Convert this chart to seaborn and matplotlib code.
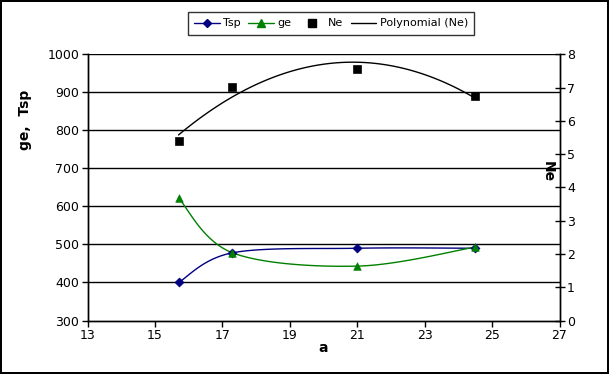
import numpy as np
import pandas as pd
import matplotlib
matplotlib.use("Agg")
import matplotlib.pyplot as plt
from matplotlib.lines import Line2D
import seaborn as sns

# ---- data ----
a_vals = [15.7, 17.3, 21.0, 24.5]
tsp_vals = [400, 478, 490, 490]
ge_vals = [622, 478, 443, 493]
ne_vals = [5.4, 7.03, 7.57, 6.74]
x_ticks = [13, 15, 17, 19, 21, 23, 25, 27]
left_ticks = [300, 400, 500, 600, 700, 800, 900, 1000]
right_ticks = [0, 1, 2, 3, 4, 5, 6, 7, 8]

sns.set_style("white")
plt.rcParams['font.family'] = ['DejaVu Sans']
plt.rcParams['text.color'] = 'black'

W, H = 609, 374
fig = plt.figure(figsize=(W / 100, H / 100), dpi=100)
fig.patch.set_edgecolor("black")
fig.patch.set_linewidth(1.5)
ax = fig.add_axes([87.5 / W, 1 - 320.5 / H, (559.5 - 87.5) / W, (320.5 - 54.3) / H])
ax2 = ax.twinx()

XLIM = (13, 27)
YLIM = (300, 1000)


def smooth(xs, ys, xr, yr, n=40):
    """Excel-style smoothed line (cubic Bezier, Catmull-Rom control points)."""
    px = (np.asarray(xs, float) - xr[0]) / (xr[1] - xr[0])
    py = (np.asarray(ys, float) - yr[0]) / (yr[1] - yr[0]) * (H / W)
    P = np.column_stack([px, py])
    m = len(P)
    out = []
    for i in range(m - 1):
        p0 = P[max(i - 1, 0)]
        p1 = P[i]
        p2 = P[i + 1]
        p3 = P[min(i + 2, m - 1)]
        c1 = p1 + (p2 - p0) / 6
        c2 = p2 - (p3 - p1) / 6
        t = np.linspace(0, 1, n)[:, None]
        seg = ((1 - t) ** 3) * p1 + 3 * ((1 - t) ** 2) * t * c1 + 3 * (1 - t) * t ** 2 * c2 + t ** 3 * p2
        out.append(seg if i == 0 else seg[1:])
    S = np.vstack(out)
    sx = S[:, 0] * (xr[1] - xr[0]) + xr[0]
    sy = S[:, 1] / (H / W) * (yr[1] - yr[0]) + yr[0]
    return sx, sy


navy = "#000080"
green = "#008000"

# gridlines
for v in left_ticks[1:]:
    ax.axhline(v, color="black", lw=1.0, zorder=1)

sx, sy = smooth(a_vals, tsp_vals, XLIM, YLIM)
sns.lineplot(x=sx, y=sy, sort=False, color=navy, lw=1.0, ax=ax, zorder=3)
sns.scatterplot(x=a_vals, y=tsp_vals, marker="D", s=22, color=navy, edgecolor=navy, ax=ax, zorder=4)

gx, gy = smooth(a_vals, ge_vals, XLIM, YLIM)
sns.lineplot(x=gx, y=gy, sort=False, color=green, lw=1.0, ax=ax, zorder=3)
sns.scatterplot(x=a_vals, y=ge_vals, marker="^", s=30, color=green, edgecolor=green, ax=ax, zorder=4)

# polynomial trendline for Ne
coef = np.polyfit(a_vals, ne_vals, 2)
tx = np.linspace(min(a_vals), max(a_vals), 100)
ty = np.polyval(coef, tx)
sns.lineplot(x=tx, y=ty, sort=False, color="black", lw=1.0, ax=ax2, zorder=3)
sns.scatterplot(x=a_vals, y=ne_vals, marker="s", s=36, color="black", edgecolor="black", ax=ax2, zorder=4)

ax.set_xlim(*XLIM)
ax.set_ylim(*YLIM)
ax2.set_ylim(0, 8)
ax.set_xticks(x_ticks)
ax.set_yticks(left_ticks)
ax2.set_yticks(right_ticks)
ax.tick_params(axis="both", labelsize=9, colors="black", direction="out", length=4, width=1, pad=2)
ax.tick_params(axis="y", left=True)
ax.tick_params(axis="x", bottom=True)
ax2.tick_params(axis="y", labelsize=9, colors="black", direction="inout", length=7, width=1, pad=2, right=True)

for a in (ax, ax2):
    for s in a.spines.values():
        s.set_color("black")
        s.set_linewidth(1.0)
ax2.spines["top"].set_visible(False)
ax.spines["top"].set_visible(False)

ax.set_xlabel("")
ax.set_ylabel("")
ax2.set_ylabel("")
ax.grid(False)
ax2.grid(False)

fig.text(323 / W, 1 - 348 / H, "a", fontsize=10, fontweight="bold", ha="center", va="center", color="black")
fig.text(25 / W, 1 - 120 / H, "ge,  Tsp", fontsize=10, fontweight="bold", ha="center", va="center",
         rotation=90, color="black")
fig.text(548 / W, 1 - 172 / H, "Ne", fontsize=10, fontweight="bold", ha="center", va="center",
         rotation=270, color="black")

handles = [
    Line2D([], [], color=navy, marker="D", markersize=4.5, lw=1.0),
    Line2D([], [], color=green, marker="^", markersize=5.5, lw=1.0),
    Line2D([], [], color="black", marker="s", markersize=6, lw=0),
    Line2D([], [], color="black", lw=1.0),
]
labels = ["Tsp", "ge", "Ne", "Polynomial (Ne)"]
leg = fig.legend(handles, labels, loc="center", bbox_to_anchor=(331 / W, 1 - 23.5 / H), ncol=4,
                 fontsize=8, frameon=True, fancybox=False, edgecolor="black", borderpad=0.55,
                 handlelength=2.3, handletextpad=0.3, columnspacing=0.7, borderaxespad=0,
                 labelcolor="black")
leg.get_frame().set_linewidth(1.0)

fig.savefig("out.png", dpi=100, facecolor="white", edgecolor="black")
